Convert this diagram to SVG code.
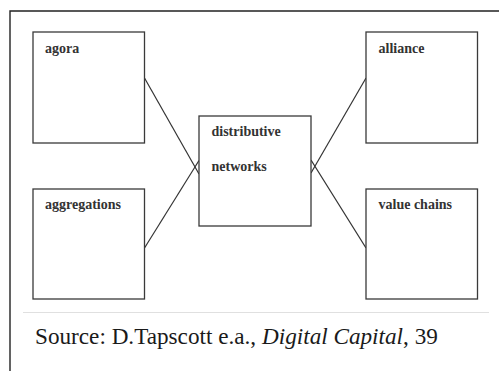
<svg xmlns="http://www.w3.org/2000/svg" width="499" height="371" viewBox="0 0 499 371">
  <style>
    .box { fill: #ffffff; stroke: #3a3a3a; stroke-width: 1.3; }
    .lbl { font-size: 14px; font-weight: bold; fill: #333333; }
    .edge { stroke: #333333; stroke-width: 1.2; fill: none; }
    .cap { font-size: 23.2px; fill: #1a1a1a; }
  </style>
  <rect width="499" height="371" fill="#ffffff"/>
  <!-- page frame, open to the right and bottom -->
  <path d="M10,371 V11 H499" fill="none" stroke="#222222" stroke-width="1.4"/>

  <g id="connectors">
    <line class="edge" x1="144.5" y1="78" x2="199" y2="174"/>
    <line class="edge" x1="144.5" y1="248" x2="199" y2="160.5"/>
    <line class="edge" x1="366" y1="78" x2="311" y2="173"/>
    <line class="edge" x1="366" y1="248" x2="311" y2="160"/>
  </g>

  <g font-family="Liberation Serif, Times New Roman, serif">
    <g id="agora">
      <rect class="box" x="33" y="32" width="111.5" height="111"/>
      <text class="lbl" x="45" y="52.5">agora</text>
    </g>
    <g id="aggregations">
      <rect class="box" x="33" y="189" width="111.5" height="110"/>
      <text class="lbl" x="45" y="208.5">aggregations</text>
    </g>
    <g id="distributive-networks">
      <rect class="box" x="199" y="116" width="112" height="110"/>
      <text class="lbl" x="211.5" y="136">distributive</text>
      <text class="lbl" x="211.5" y="171">networks</text>
    </g>
    <g id="alliance">
      <rect class="box" x="366" y="32" width="111.5" height="111"/>
      <text class="lbl" x="378.5" y="52.5">alliance</text>
    </g>
    <g id="value-chains">
      <rect class="box" x="366" y="189" width="111.5" height="110"/>
      <text class="lbl" x="378.5" y="208.5">value chains</text>
    </g>

    <!-- caption -->
    <line x1="23" y1="312.5" x2="489" y2="312.5" stroke="#e0e0e0" stroke-width="1.2"/>
    <text class="cap" x="35" y="344">Source: D.Tapscott e.a., <tspan font-style="italic">Digital Capital</tspan>, 39</text>
  </g>
</svg>
